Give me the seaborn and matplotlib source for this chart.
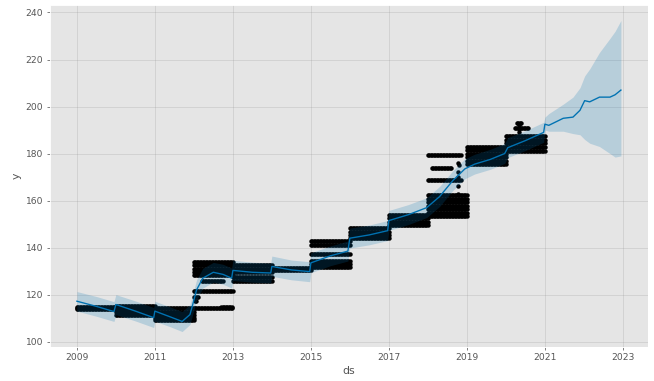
import matplotlib
matplotlib.use("Agg")
import matplotlib.pyplot as plt
import matplotlib.dates as mdates
import seaborn as sns
import pandas as pd

plt.style.use("ggplot")

# forecast (decimal year -> yhat / lower / upper)
fcst_t = [2009.00, 2009.50, 2009.95, 2010.00, 2010.50, 2010.97, 2011.00, 2011.40,
          2011.70, 2011.90, 2011.97, 2012.07, 2012.23, 2012.50, 2012.75, 2012.97,
          2013.00, 2013.50, 2013.97, 2014.00, 2014.50, 2014.97, 2015.00, 2015.50,
          2015.95, 2016.00, 2016.50, 2016.97, 2017.00, 2017.50, 2017.97, 2018.30,
          2018.64, 2018.95, 2019.20, 2019.60, 2019.97, 2020.05, 2020.50, 2020.97,
          2021.00, 2021.10, 2021.47, 2021.72, 2021.90, 2022.02, 2022.15, 2022.40,
          2022.67, 2022.80, 2022.95]
fcst_yhat = [117.2, 115.0, 112.8, 115.8, 113.0, 110.2, 113.0, 110.5,
             108.6, 111.5, 115.7, 122.0, 127.0, 129.5, 128.6, 127.0,
             130.3, 129.5, 129.2, 132.0, 130.5, 129.8, 133.5, 136.5,
             138.5, 144.0, 145.4, 147.2, 151.5, 154.0, 157.0, 161.7,
             168.5, 173.5, 175.5, 177.5, 180.0, 182.5, 185.5, 189.0,
             192.5, 192.0, 195.0, 195.5, 198.4, 202.5, 202.0, 204.0,
             204.0, 205.0, 207.0]
fcst_lower = [113.0, 110.8, 108.6, 111.5, 108.8, 106.0, 108.7, 106.3,
              104.3, 107.3, 111.5, 117.8, 122.8, 125.3, 124.4, 122.8,
              126.0, 125.3, 125.0, 127.8, 126.3, 125.5, 129.3, 132.3,
              134.3, 139.8, 141.2, 143.0, 147.3, 149.8, 152.8, 157.5,
              164.3, 169.3, 171.3, 173.3, 175.8, 178.3, 181.3, 184.8,
              190.0, 189.5, 189.5, 188.5, 188.0, 186.0, 184.4, 183.0,
              180.0, 178.5, 179.0]
fcst_upper = [121.3, 119.2, 117.0, 120.0, 117.3, 114.5, 117.2, 114.7,
              112.8, 115.8, 120.0, 126.3, 131.2, 133.7, 132.9, 131.3,
              134.6, 133.8, 133.4, 136.4, 134.7, 134.0, 137.8, 140.7,
              142.8, 148.3, 149.6, 151.5, 155.8, 158.3, 161.2, 166.0,
              172.7, 177.8, 179.7, 181.8, 184.3, 186.8, 189.7, 193.3,
              195.5, 197.0, 201.0, 204.0, 208.0, 213.0, 216.0, 223.0,
              229.0, 232.0, 236.6]

# observed prices: flat runs (start year, end year, level)
obs_start = [2009.0, 2009.0, 2009.0,
             2010.0, 2010.0, 2010.0, 2010.0,
             2011.0, 2011.0, 2011.0, 2011.0,
             2012.0, 2012.0, 2012.0, 2012.0, 2012.0, 2012.0, 2012.2, 2012.0, 2012.03, 2012.7,
             2013.0, 2013.0, 2013.0, 2013.0, 2013.0,
             2014.0, 2014.0,
             2015.0, 2015.0, 2015.0, 2015.0, 2015.0, 2015.0,
             2016.0, 2016.0, 2016.0, 2016.0,
             2017.0, 2017.0, 2017.0, 2017.0,
             2018.0, 2018.1, 2018.0, 2018.0, 2018.0, 2018.0, 2018.0, 2018.0, 2018.0, 2018.0,
             2019.0, 2019.0, 2019.0, 2019.0, 2019.0, 2019.0,
             2020.0, 2020.0, 2020.0, 2020.0, 2020.0, 2020.23, 2020.28]
obs_end = [2013.0, 2010.0, 2010.0,
           2011.0, 2011.0, 2011.0, 2011.0,
           2012.0, 2012.0, 2012.0, 2012.0,
           2013.0, 2013.0, 2013.0, 2013.0, 2013.0, 2013.0, 2012.75, 2012.12, 2012.08, 2013.0,
           2014.0, 2014.0, 2014.0, 2014.0, 2014.0,
           2015.0, 2015.0,
           2016.0, 2016.0, 2016.0, 2016.0, 2016.0, 2016.0,
           2017.0, 2017.0, 2017.0, 2017.0,
           2018.0, 2018.0, 2018.0, 2018.0,
           2018.85, 2018.6, 2018.85, 2019.0, 2019.0, 2019.0, 2019.0, 2019.0, 2019.0, 2019.0,
           2020.0, 2020.0, 2020.0, 2020.0, 2020.0, 2020.0,
           2021.0, 2021.0, 2021.0, 2021.0, 2021.0, 2020.6, 2020.4]
obs_level = [114.3, 113.8, 114.8,
             111.3, 112.5, 113.6, 115.0,
             109.0, 110.2, 111.4, 112.6,
             128.3, 129.7, 131.1, 132.5, 133.9, 121.6, 125.9, 118.8, 117.2, 114.8,
             129.8, 131.1, 132.6, 125.8, 127.4,
             130.4, 131.5,
             141.2, 142.6, 137.2, 131.9, 133.2, 134.4,
             144.0, 145.4, 146.8, 148.2,
             149.5, 151.0, 152.5, 154.0,
             179.5, 173.8, 168.7, 153.3, 154.8, 156.3, 157.8, 159.3, 160.8, 162.3,
             175.5, 177.0, 178.5, 180.0, 181.5, 183.0,
             181.3, 182.8, 184.3, 185.8, 187.3, 190.8, 193.0]

# a few single points on the fast transitions
jump_t = [2018.77, 2018.77, 2018.77, 2018.78, 2018.78, 2018.79, 2020.33, 2020.33, 2020.34]
jump_y = [176.0, 172.0, 166.0, 163.0, 170.0, 175.0, 189.0, 190.5, 192.0]

tick_years = [2009, 2011, 2013, 2015, 2017, 2019, 2021, 2023]


def to_date(t):
    y = int(t)
    return pd.Timestamp(year=y, month=1, day=1) + pd.Timedelta(days=(t - y) * 365.25)


fcst = pd.DataFrame({"ds": [to_date(t) for t in fcst_t], "yhat": fcst_yhat,
                     "lower": fcst_lower, "upper": fcst_upper})

parts = []
for s, e, lvl in zip(obs_start, obs_end, obs_level):
    days = pd.date_range(to_date(s), to_date(e), freq="14D")
    parts.append(pd.DataFrame({"ds": days, "y": lvl}))
parts.append(pd.DataFrame({"ds": [to_date(t) for t in jump_t], "y": jump_y}))
hist = pd.concat(parts, ignore_index=True)

fig, ax = plt.subplots(figsize=(10, 5.826), dpi=65.4)
fig.subplots_adjust(left=0.076, right=0.991, top=0.987, bottom=0.089)

sns.scatterplot(data=hist, x="ds", y="y", color="k", s=24, linewidth=0, ax=ax)
sns.lineplot(data=fcst, x="ds", y="yhat", color="#0072B2", lw=1.5, estimator=None, ax=ax)
ax.fill_between(fcst["ds"], fcst["lower"], fcst["upper"], color="#0072B2", alpha=0.2, lw=0)

ax.grid(True, which="major", c="gray", ls="-", lw=1, alpha=0.2)
ax.set_xticks([pd.Timestamp(year=y, month=1, day=1) for y in tick_years])
ax.xaxis.set_major_formatter(mdates.DateFormatter("%Y"))
ax.set_xlabel("ds")
ax.set_ylabel("y")

fig.savefig("out.png", dpi=65.4)
